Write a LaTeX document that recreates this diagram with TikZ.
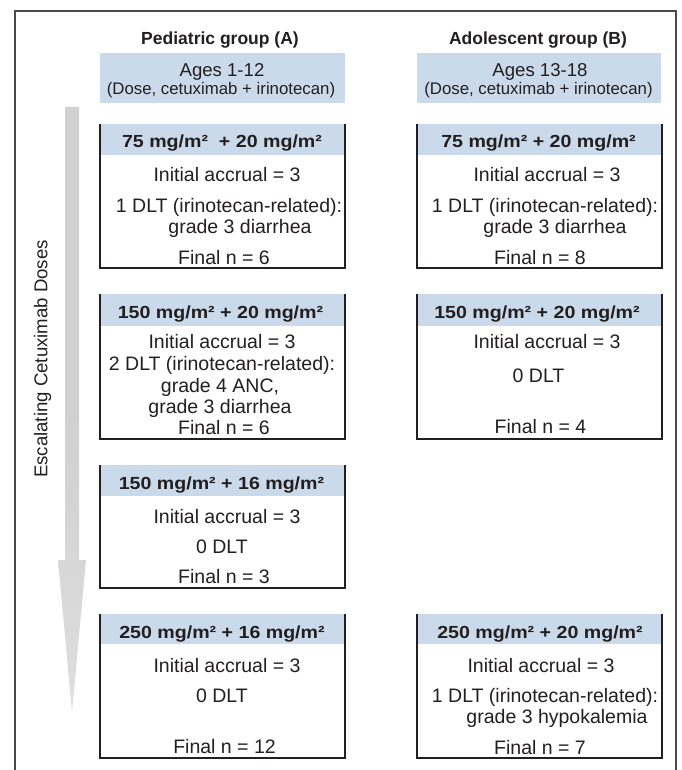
\documentclass[tikz,border=0pt]{standalone}
\usepackage{fontspec}
\setmainfont{Liberation Sans}
\newfontfamily\widesans[FakeStretch=1.12]{Liberation Sans}
\definecolor{bandblue}{HTML}{CADAEB}
\definecolor{txt}{HTML}{231F20}
\definecolor{arrowgray}{HTML}{D0D0D0}
\definecolor{framegray}{HTML}{4A4A4A}
\tikzset{
  body/.style={font=\fontsize{19.5}{21}\selectfont, text=txt, inner sep=0pt, anchor=base},
  dosehd/.style={font=\widesans\bfseries\fontsize{17.5}{20}\selectfont, text=txt, inner sep=0pt, anchor=base},
  grouphd/.style={font=\bfseries\fontsize{17.5}{20}\selectfont, text=txt, inner sep=0pt, anchor=base},
  ages/.style={font=\fontsize{18.6}{20}\selectfont, text=txt, inner sep=0pt, anchor=base},
  agesub/.style={font=\fontsize{16.8}{18}\selectfont, text=txt, inner sep=0pt, anchor=base},
  boxline/.style={draw=txt, line width=1.2pt},
  frameline/.style={draw=framegray, line width=1.4pt},
}
\newcommand{\dbox}[6]{%
  \fill[bandblue] (#2,#4) rectangle (#3,#5);
  \draw[boxline] (#2,#4) coordinate (#1nw) -- (#2,#6) coordinate (#1sw) -- (#3,#6) coordinate (#1se) -- (#3,#4) coordinate (#1ne);
}
\begin{document}
\begin{tikzpicture}[x=1pt,y=-1pt]
\useasboundingbox (0,0) rectangle (681,770);
\fill[white] (0,0) rectangle (681,770);
% frame
\draw[frameline] (15,771) coordinate (fbl) -- (15,11) coordinate (ftl) -- (676,11) coordinate (ftr) -- (676,771) coordinate (fbr);
% arrow
\shade[top color=arrowgray, bottom color=arrowgray!70, middle color=arrowgray]
  (65,107) -- (79,107) -- (79,560) -- (86,560) -- (72,712) -- (58,560) -- (65,560) -- cycle;
\node[body, anchor=center, rotate=90, font=\fontsize{18.6}{20}\selectfont] (esc) at (42.5,359) {Escalating Cetuximab Doses};
% group headers
\node[grouphd] (ga) at (220,45) {Pediatric group (A)};
\node[grouphd] (gb) at (538,45) {Adolescent group (B)};
\fill[bandblue] (100,53) rectangle (345,103);
\fill[bandblue] (417,53) rectangle (661,103);
\node[ages] (agea) at (222,77) {Ages 1-12};
\node[agesub] (agesuba) at (221,95) {(Dose, cetuximab + irinotecan)};
\node[ages] (ageb) at (540,77) {Ages 13-18};
\node[agesub] (agesubb) at (538.5,95) {(Dose, cetuximab + irinotecan)};
% boxes
\dbox{a1}{100}{345}{124}{155}{268}
\dbox{b1}{417}{662}{124}{155}{268}
\dbox{a2}{100}{345}{294}{326}{439}
\dbox{b2}{417}{662}{294}{326}{439}
\dbox{a3}{100}{345}{465}{496}{588}
\dbox{a4}{100}{345}{614}{644}{758}
\dbox{b4}{417}{662}{614}{644}{758}
% A1
\node[dosehd] (a1h) at (222,148) {75 mg/m²\ \ + 20 mg/m²};
\node[body] (a1i) at (227,182) {Initial accrual = 3};
\node[body] (a1d) at (229,212) {1 DLT (irinotecan-related):};
\node[body] (a1g) at (240,233) {grade 3 diarrhea};
\node[body] (a1f) at (224,264) {Final n = 6};
% B1
\node[dosehd] (b1h) at (538.5,148) {75 mg/m² + 20 mg/m²};
\node[body] (b1i) at (547,182) {Initial accrual = 3};
\node[body] (b1d) at (545,212) {1 DLT (irinotecan-related):};
\node[body] (b1g) at (555,233) {grade 3 diarrhea};
\node[body] (b1f) at (540,264) {Final n = 8};
% A2
\node[dosehd] (a2h) at (220.5,318) {150 mg/m² + 20 mg/m²};
\node[body] (a2i) at (222,348) {Initial accrual = 3};
\node[body] (a2d) at (222,370) {2 DLT (irinotecan-related):};
\node[body] (a2g) at (220,392) {grade 4 ANC,};
\node[body] (a2g2) at (220,413) {grade 3 diarrhea};
\node[body] (a2f) at (224,434) {Final n = 6};
% B2
\node[dosehd] (b2h) at (537,318) {150 mg/m² + 20 mg/m²};
\node[body] (b2i) at (547,348) {Initial accrual = 3};
\node[body] (b2d) at (538.5,382) {0 DLT};
\node[body] (b2f) at (540.5,433) {Final n = 4};
% A3
\node[dosehd] (a3h) at (221.5,489) {150 mg/m² + 16 mg/m²};
\node[body] (a3i) at (227,523) {Initial accrual = 3};
\node[body] (a3d) at (222,553) {0 DLT};
\node[body] (a3f) at (224,583) {Final n = 3};
% A4
\node[dosehd] (a4h) at (222,638) {250 mg/m² + 16 mg/m²};
\node[body] (a4i) at (227,672) {Initial accrual = 3};
\node[body] (a4d) at (222,702) {0 DLT};
\node[body] (a4f) at (224.5,753) {Final n = 12};
% B4
\node[dosehd] (b4h) at (540,638) {250 mg/m² + 20 mg/m²};
\node[body] (b4i) at (541,672) {Initial accrual = 3};
\node[body] (b4d) at (545,702) {1 DLT (irinotecan-related):};
\node[body] (b4g) at (557,723) {grade 3 hypokalemia};
\node[body] (b4f) at (540,754) {Final n = 7};
\end{tikzpicture}
\end{document}
